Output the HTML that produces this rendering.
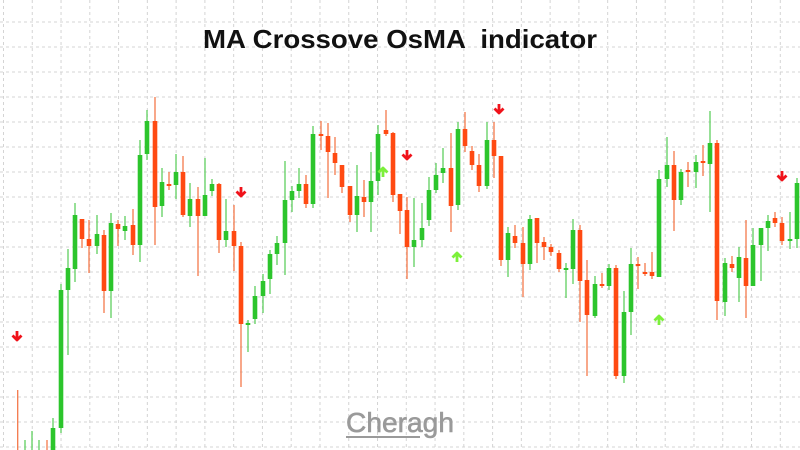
<!DOCTYPE html>
<html><head><meta charset="utf-8"><style>
html,body{margin:0;padding:0;background:#fff;}
svg{display:block;}
</style></head><body>
<svg id="c" width="800" height="450" viewBox="0 0 800 450" xmlns="http://www.w3.org/2000/svg">
<g id="grid" stroke="#d4d4d4" stroke-width="1" stroke-dasharray="3,3"></g>
<text x="400" y="48" text-anchor="middle" font-family="Liberation Sans, sans-serif" font-weight="bold" font-size="26" fill="#111" textLength="394" lengthAdjust="spacingAndGlyphs" xml:space="preserve">MA Crossove OsMA  indicator</text>
<g id="cd"></g>
<g id="ar"></g>
<text x="400" y="432" text-anchor="middle" font-family="Liberation Sans, sans-serif" font-size="28" fill="#9a9a9a" stroke="#9a9a9a" stroke-width="0.6" textLength="108" lengthAdjust="spacingAndGlyphs">Cheragh</text>
<line x1="346" y1="437" x2="420" y2="437" stroke="#9a9a9a" stroke-width="2"/>
</svg>
<script>
var ns="http://www.w3.org/2000/svg";
function el(p,t,a){var e=document.createElementNS(ns,t);for(var k in a)e.setAttribute(k,a[k]);p.appendChild(e);return e;}
var g=document.getElementById('grid');
for(var k=0;k<29;k++){var x=3.5+28.77*k;el(g,'line',{x1:x,y1:0,x2:x,y2:450});}
for(var y=22;y<450;y+=25){el(g,'line',{x1:0,y1:y,x2:800,y2:y});}
var D=[
[17.7,'r',460,460,390,450],[25,'g',460,460,440,450],[32,'g',460,460,431,450],[39,'g',460,460,440,450],[47,'r',460,460,440,450],
[53,'g',428,450,418,450],[61,'g',290,428,284,433],[68,'g',268,290,249,355],[75,'g',215,269,203,282],[82,'r',219,239,219,248],
[89,'r',239,246,220,273],[97,'g',234,246,215,254],[104,'r',235,291,230,313],[111,'g',223,291,213,318],[118,'r',224,229,220,246],
[125,'g',226,231,216,240],[133,'r',225,245,209,255],[140,'g',155,245,140,262],[147,'g',121,154,110,160],[155,'r',121,207,97,245],
[162,'g',182,206,168,217],[169,'r',184,186,172,190],[176,'g',172,185,154,199],[183,'r',172,215,156,217],[190,'g',199,216,183,227],
[198,'r',199,216,187,276],[205,'g',195,216,158,216],[212,'g',184,191,179,196],[219,'r',184,240,183,253],[226,'g',231,240,199,247],
[234,'r',231,246,205,271],[241,'r',246,324,242,387],[248,'g',323,325,320,352],[255,'g',296,319,286,324],[263,'g',281,296,274,313],
[270,'g',254,279,250,294],[277,'g',243,254,236,265],[285,'g',200,243,161,275],[292,'g',191,200,186,212],[299,'g',184,191,168,198],
[306,'r',184,204,175,208],[313,'g',134,204,126,208],[321,'r',134,136,121,150],[328,'r',136,152,123,198],[335,'r',153,163,137,175],
[342,'r',165,187,165,193],[350,'r',186,215,186,222],[357,'g',196,215,165,232],[364,'r',197,202,180,217],[371,'g',181,202,152,232],
[378,'g',134,181,125,195],[386,'r',130,134,110,136],[393,'r',133,195,132,202],[400,'r',194,211,194,234],[407,'r',210,247,197,279],
[414,'g',240,247,198,267],[422,'g',228,240,203,247],[429,'g',190,220,177,226],[436,'g',175,190,163,193],[443,'g',168,173,148,183],
[451,'r',168,206,133,232],[458,'g',129,205,122,210],[465,'r',129,146,112,152],[472,'r',151,165,146,170],[479,'r',165,186,154,192],
[487,'g',140,186,122,189],[494,'r',140,156,122,178],[501,'r',156,260,156,266],[508,'g',233,260,227,277],[515,'r',236,243,225,248],
[523,'r',243,264,227,297],[530,'g',219,264,215,270],[537,'r',218,243,218,263],[544,'r',242,247,237,260],[551,'r',247,252,244,256],
[559,'r',253,269,250,272],[566,'g',268,270,263,298],[573,'g',230,269,219,284],[580,'r',230,281,225,322],[587,'r',280,315,260,376],
[595,'g',284,316,276,318],[602,'r',284,286,273,288],[609,'g',268,286,264,290],[616,'r',268,376,265,379],[624,'g',312,376,291,383],
[631,'g',264,312,248,335],[638,'r',264,266,257,289],[645,'r',272,274,263,276],[652,'r',272,276,252,279],[659,'g',179,277,170,277],
[667,'g',165,179,137,187],[674,'r',165,200,151,231],[681,'g',172,200,169,205],[688,'r',170,172,162,187],[696,'g',162,172,155,188],
[703,'r',161,163,145,176],[710,'g',143,164,111,212],[717,'r',143,301,140,320],[725,'g',263,302,258,316],[732,'r',264,268,256,272],
[739,'g',257,278,247,302],[746,'r',258,286,220,318],[753,'g',245,286,228,282],[761,'g',228,245,228,281],[768,'g',221,228,215,251],
[775,'r',218,223,212,227],[782,'r',223,241,217,245],[790,'g',239,241,212,249],[797,'g',183,239,178,248]
];
var cd=document.getElementById('cd');
D.forEach(function(d){
 var col=d[1]=='g'?'#2cc52c':'#ff4a12', wc=d[1]=='g'?'#5fcf5f':'#f4784a';
 el(cd,'line',{x1:d[0],y1:d[4],x2:d[0],y2:d[5],stroke:wc,'stroke-width':1.3});
 if(d[2]<450){var h=Math.max(d[3]-d[2],2);
 el(cd,'rect',{x:d[0]-2.3,y:d[2],width:4.6,height:h,fill:col});}
});
var ar=document.getElementById('ar');
function down(x,y){el(ar,'path',{d:'M'+x+' '+(y-5)+'V'+(y+3)+'M'+(x-4.5)+' '+(y-0.5)+'L'+x+' '+(y+4)+'L'+(x+4.5)+' '+(y-0.5),stroke:'#f0121a','stroke-width':2.8,fill:'none','stroke-linejoin':'round'});}
function up(x,y){el(ar,'path',{d:'M'+x+' '+(y+5)+'V'+(y-3)+'M'+(x-4.5)+' '+(y+0.5)+'L'+x+' '+(y-4)+'L'+(x+4.5)+' '+(y+0.5),stroke:'#7cf03a','stroke-width':2.8,fill:'none','stroke-linejoin':'round'});}
down(17,336);down(241,192);down(407,155);down(499,109);down(782,176);
up(383,172);up(457,257);up(659,320);
</script>
</body></html>
